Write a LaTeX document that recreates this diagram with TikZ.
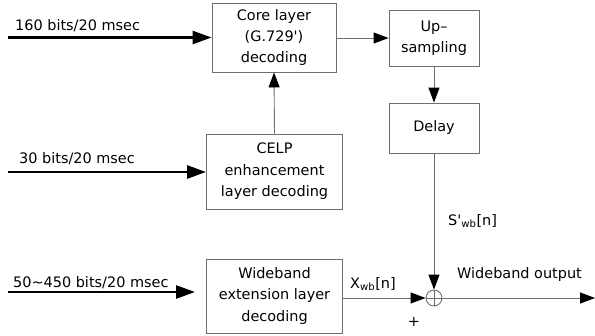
\documentclass[tikz,border=0pt]{standalone}
\usepackage{fontspec}
\setmainfont{DejaVu Sans}
\usepackage{tikz}
\usetikzlibrary{arrows.meta,shapes}
\newcommand{\thin}{0.9bp}
\newcommand{\thick}{2.6bp}
\definecolor{linegray}{RGB}{110,110,110}
\tikzset{
  block/.style = {draw=linegray, line width=\thin, align=center, inner sep=2bp,
                  font=\fontsize{14.5}{21.5}\selectfont},
  lbl/.style = {inner sep=0pt, font=\fontsize{14.5}{16}\selectfont},
  link/.style = {draw=linegray, line width=\thin, -{Triangle[length=15bp,width=11bp,color=black]}},
  inlink/.style = {draw=black, line width=\thick, -{Triangle[length=19bp,width=13bp]}}
}

\begin{document}
\begin{tikzpicture}[x=1bp, y=-1bp]
                        %\draw[help lines] (0,0) grid (595,335);
                        \useasboundingbox (0,0) rectangle (595,335);
                        % blocks
                        \node[block, minimum width=124bp, minimum height=69bp] (core) at (274,37.5) {Core layer\\(G.729\textquotesingle)\\decoding};
                        \node[block, minimum width=90bp, minimum height=56bp] (up) at (434,38) {Up--\\sampling};
                        \node[block, minimum width=90bp, minimum height=50bp] (delay) at (434,128) {Delay};
                        \node[block, minimum width=136bp, minimum height=75bp] (celp) at (274.5,171.5) {CELP\\enhancement\\layer decoding};
                        \node[block, minimum width=136bp, minimum height=74bp] (wide) at (274.5,296) {Wideband\\extension layer\\decoding};
                        \node[draw=linegray, line width=\thin, circle, minimum size=16bp, inner sep=0pt] (sum) at (434,298) {};
                        \draw[linegray, line width=\thin] (sum.north) -- (sum.south) (sum.west) -- (sum.east);
                        % inputs
                        \coordinate (in1) at (8,37.5);
                        \coordinate (in2) at (8,172);
                        \coordinate (in3) at (8,292);
                        \coordinate (in3end) at (195,292);
                        \coordinate (out) at (595,298);
                        \draw[inlink] (in1) -- (core.west |- in1);
                        \draw[inlink] (in2) -- (celp.west |- in2);
                        \draw[inlink] (in3) -- (in3end);
                        \node[lbl, anchor=base west] (rate1) at (15,30) {160 bits/20 msec};
                        \node[lbl, anchor=base west] (rate2) at (19,163) {30 bits/20 msec};
                        \node[lbl, anchor=base west] (rate3) at (13,287) {50\char"223C 450 bits/20 msec};
                        % signal path
                        \draw[link] (core.east |- up) -- (up.west);
                        \draw[link] (up.south) -- (delay.north);
                        \draw[link] (celp.north) -- (core.south);
                        \draw[link] (delay.south) -- (sum.north);
                        \draw[link] (wide.east |- sum) -- (sum.west);
                        \draw[link] (sum.east) -- (out);
                        \node[lbl, anchor=base west] (xwb) at (350,288) {X\textsubscript{wb}[n]};
                        \node[lbl, anchor=base west] (swb) at (448,225) {S\textquotesingle\textsubscript{wb}[n]};
                        \node[lbl, anchor=base west] (outlbl) at (457,278) {Wideband output};
                        \node[lbl] (plus) at (414,322) {+};
\end{tikzpicture}
\end{document}
